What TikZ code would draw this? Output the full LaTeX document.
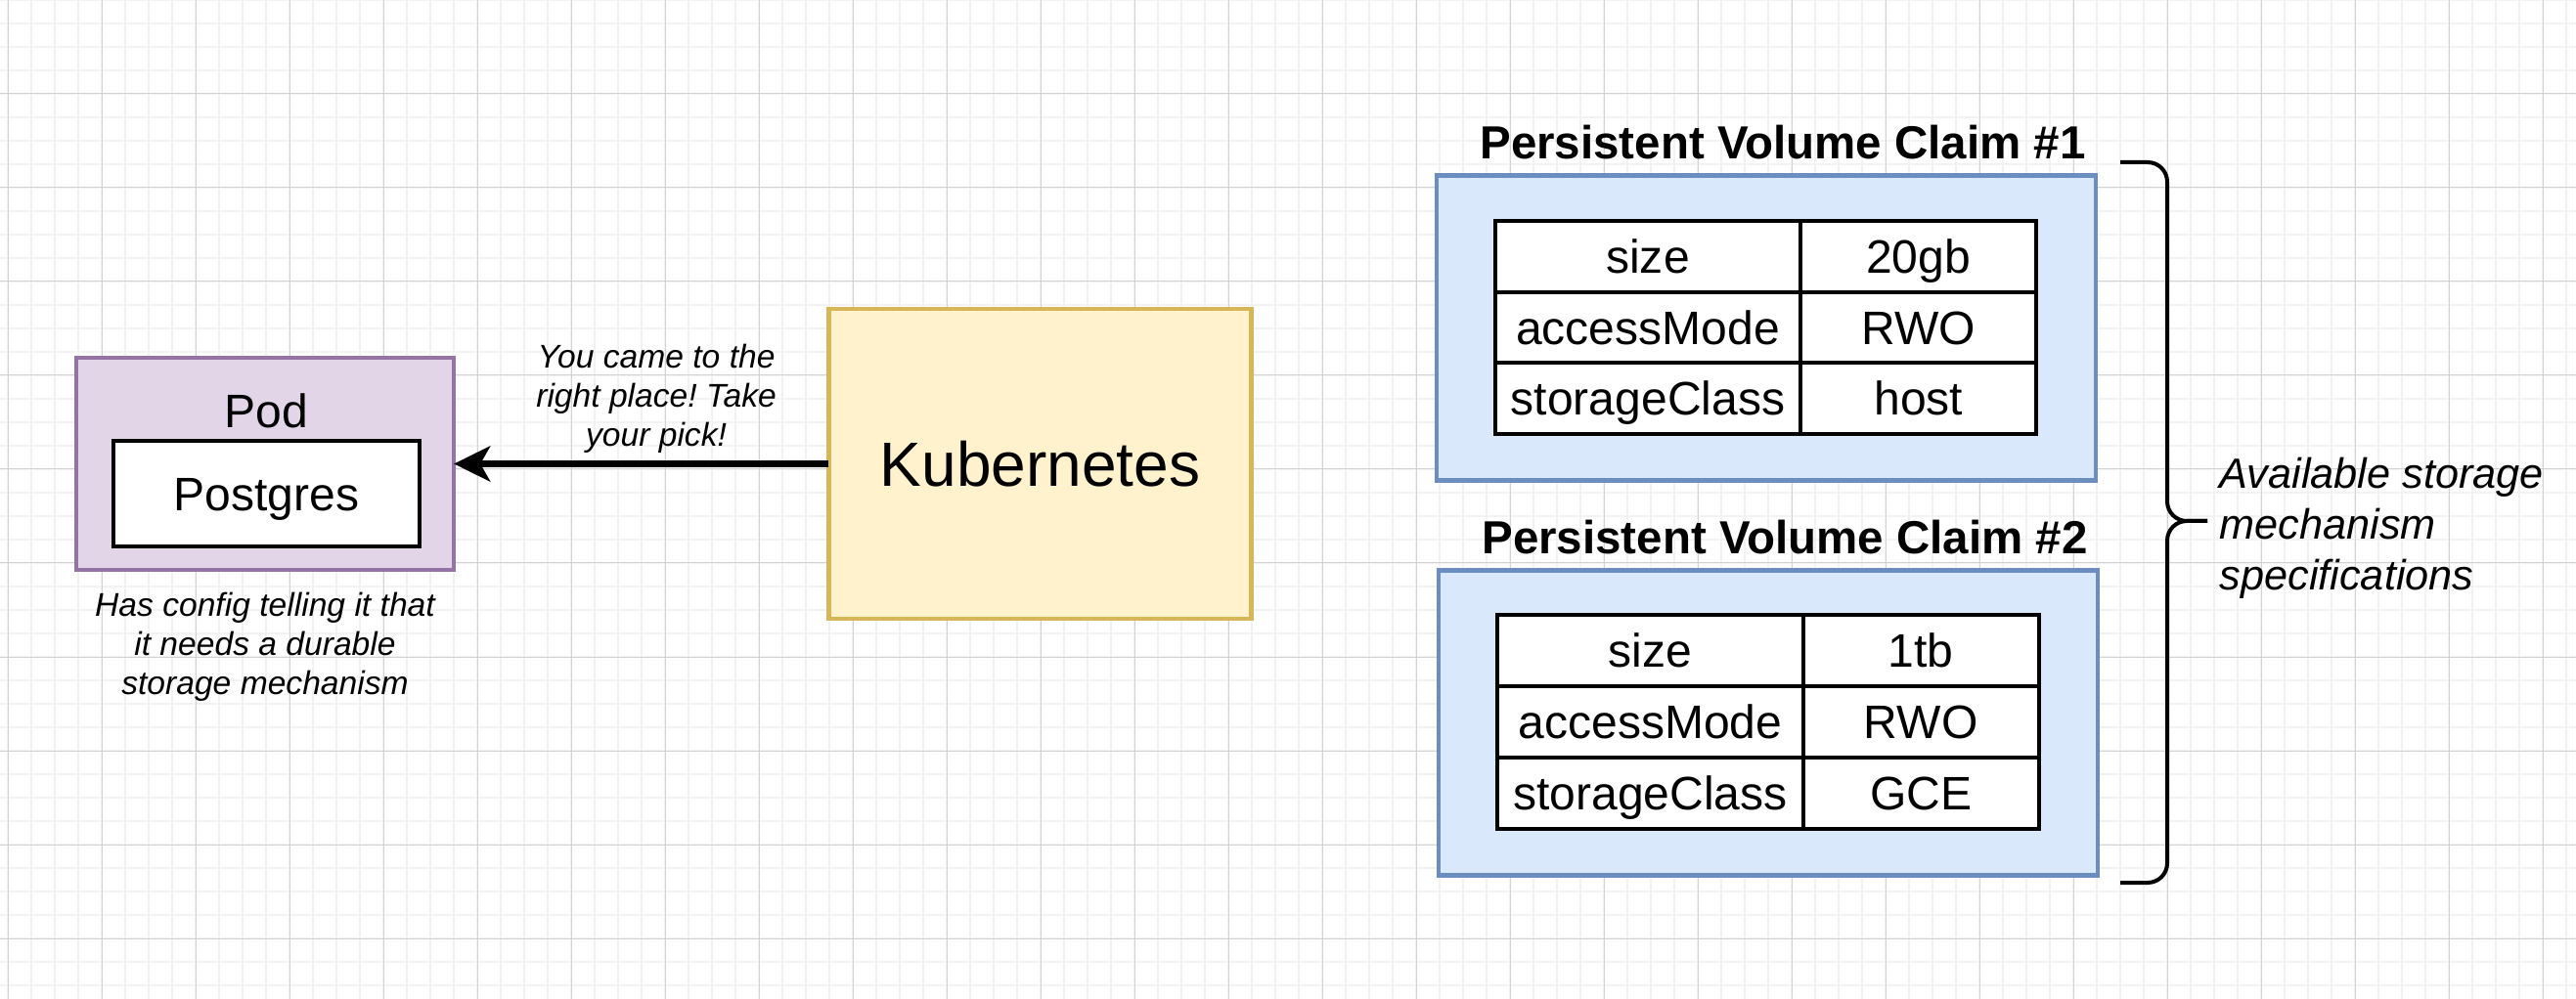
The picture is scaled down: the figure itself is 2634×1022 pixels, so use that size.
\documentclass[tikz,border=0pt]{standalone}
\usepackage{fontspec}
\setmainfont{Liberation Sans}
\frenchspacing
\usepackage{xcolor}
\definecolor{podFill}{HTML}{E1D5E7}
\definecolor{podLine}{HTML}{9673A6}
\definecolor{kubeFill}{HTML}{FFF2CC}
\definecolor{kubeLine}{HTML}{D6B656}
\definecolor{pvcFill}{HTML}{DAE8FC}
\definecolor{pvcLine}{HTML}{6C8EBF}
\definecolor{gridLight}{HTML}{F2F2F2}
\definecolor{gridDark}{HTML}{D3D3D3}
\usepackage{tikz}
\usetikzlibrary{positioning,arrows.meta}
\tikzset{%
  podBox/.style={%
    rectangle,
    draw=podLine,
    fill=podFill,
    line width=0.045cm,
    outer sep=0pt,
    minimum width=3.86cm,
    minimum height=2.17cm
  },
  innerBox/.style={%
    rectangle,
    draw=black,
    fill=white,
    line width=0.04cm,
    minimum width=3.13cm,
    minimum height=1.08cm,
    text height=9.7pt,
    text depth=0pt,
    font=\fontsize{13.66pt}{16pt}\selectfont
  },
  kubeBox/.style={%
    rectangle,
    draw=kubeLine,
    fill=kubeFill,
    line width=0.045cm,
    outer sep=0pt,
    minimum width=4.32cm,
    minimum height=3.17cm,
    font=\fontsize{18.2pt}{22pt}\selectfont
  },
  pvcBox/.style={%
    rectangle,
    draw=pvcLine,
    fill=pvcFill,
    line width=0.045cm,
    outer sep=0pt,
    minimum width=6.74cm,
    minimum height=3.12cm
  },
  keyCell/.style={%
    rectangle,
    draw=black,
    fill=white,
    line width=0.04cm,
    outer sep=0pt,
    minimum width=3.12cm,
    minimum height=0.727cm,
    text height=9.7pt,
    text depth=0pt,
    font=\fontsize{13.66pt}{16pt}\selectfont
  },
  valCell/.style={%
    keyCell,
    minimum width=2.41cm
  },
  mainText/.style={%
    inner sep=0pt,
    font=\fontsize{13.66pt}{16pt}\selectfont
  },
  pvcTitle/.style={%
    inner sep=0pt,
    font=\bfseries\fontsize{13.5pt}{16pt}\selectfont
  },
  noteText/.style={%
    inner sep=0pt,
    align=center,
    font=\itshape\fontsize{9.56pt}{11.4pt}\selectfont
  },
  sideText/.style={%
    inner sep=0pt,
    align=left,
    font=\itshape\fontsize{12.3pt}{14.8pt}\selectfont
  },
  pickArrow/.style={%
    -{Stealth[length=0.37cm,width=0.36cm,inset=0.1cm]},
    line width=0.065cm,
    color=black
  },
  braceLine/.style={%
    line width=0.04cm,
    rounded corners=0.2cm
  },
  gridMinor/.style={gridLight, line width=0.015cm},
  gridMajor/.style={gridDark, line width=0.01cm}
}

\begin{document}
\begin{tikzpicture}[x=0.01cm, y=-0.01cm]
  \useasboundingbox (0,0) rectangle (2634,1022);
  % grid
  \fill[white] (0,0) rectangle (2634,1022);
  \foreach \gx in {8,32,...,2624} \draw[gridMinor] (\gx,0) -- (\gx,1022);
  \foreach \gy in {0,24,...,1008} \draw[gridMinor] (0,\gy) -- (2634,\gy);
  \foreach \gx in {8,104,...,2600} \draw[gridMajor] (\gx,0) -- (\gx,1022);
  \foreach \gy in {0,96,...,960} \draw[gridMajor] (0,\gy) -- (2634,\gy);

  % pod and kubernetes
  \node[podBox] (pod) at (271,474.5) {};
  \node[mainText] (podTitle) at (272,420) {Pod};
  \node[innerBox] (postgres) at (272.5,505) {Postgres};
  \node[noteText, below=0.22cm of pod] (podNote) {Has config telling it that\\it needs a durable\\storage mechanism};
  \node[kubeBox, right=3.83cm of pod] (kube) {Kubernetes};

  \draw[pickArrow] (kube) -- node[noteText, above=0.08cm, pos=0.46] {You came to the\\right place! Take\\your pick!} (pod);

  % claim 1
  \node[pvcBox] (pvcA) at (1806,335.5) {};
  \node[pvcTitle, above left=0.16cm and 0.1cm of pvcA.north east] (pvcTitleA) {Persistent Volume Claim \#1};
  \node[keyCell] (keyA2) at (1685,335) {accessMode};
  \node[keyCell, above=0pt of keyA2] (keyA1) {size};
  \node[keyCell, below=0pt of keyA2] (keyA3) {storageClass};
  \node[valCell, right=0pt of keyA1] (valA1) {20gb};
  \node[valCell, right=0pt of keyA2] (valA2) {RWO};
  \node[valCell, right=0pt of keyA3] (valA3) {host};

  % claim 2
  \node[pvcBox] (pvcB) at (1808,739.5) {};
  \node[pvcTitle, above left=0.16cm and 0.1cm of pvcB.north east] (pvcTitleB) {Persistent Volume Claim \#2};
  \node[keyCell] (keyB2) at (1687.5,738.5) {accessMode};
  \node[keyCell, above=0pt of keyB2] (keyB1) {size};
  \node[keyCell, below=0pt of keyB2] (keyB3) {storageClass};
  \node[valCell, right=0pt of keyB1] (valB1) {1tb};
  \node[valCell, right=0pt of keyB2] (valB2) {RWO};
  \node[valCell, right=0pt of keyB3] (valB3) {GCE};

  % brace
  \coordinate (braceTip) at (2257,533);
  \draw[braceLine] (2168,166) -- (2216,166) -- (2216,533) -- (braceTip);
  \draw[braceLine] (2168,903) -- (2216,903) -- (2216,533) -- (braceTip);
  \node[sideText, right=0.12cm of braceTip, yshift=-0.07cm] (braceNote) {Available storage\\mechanism\\specifications};
\end{tikzpicture}
\end{document}
